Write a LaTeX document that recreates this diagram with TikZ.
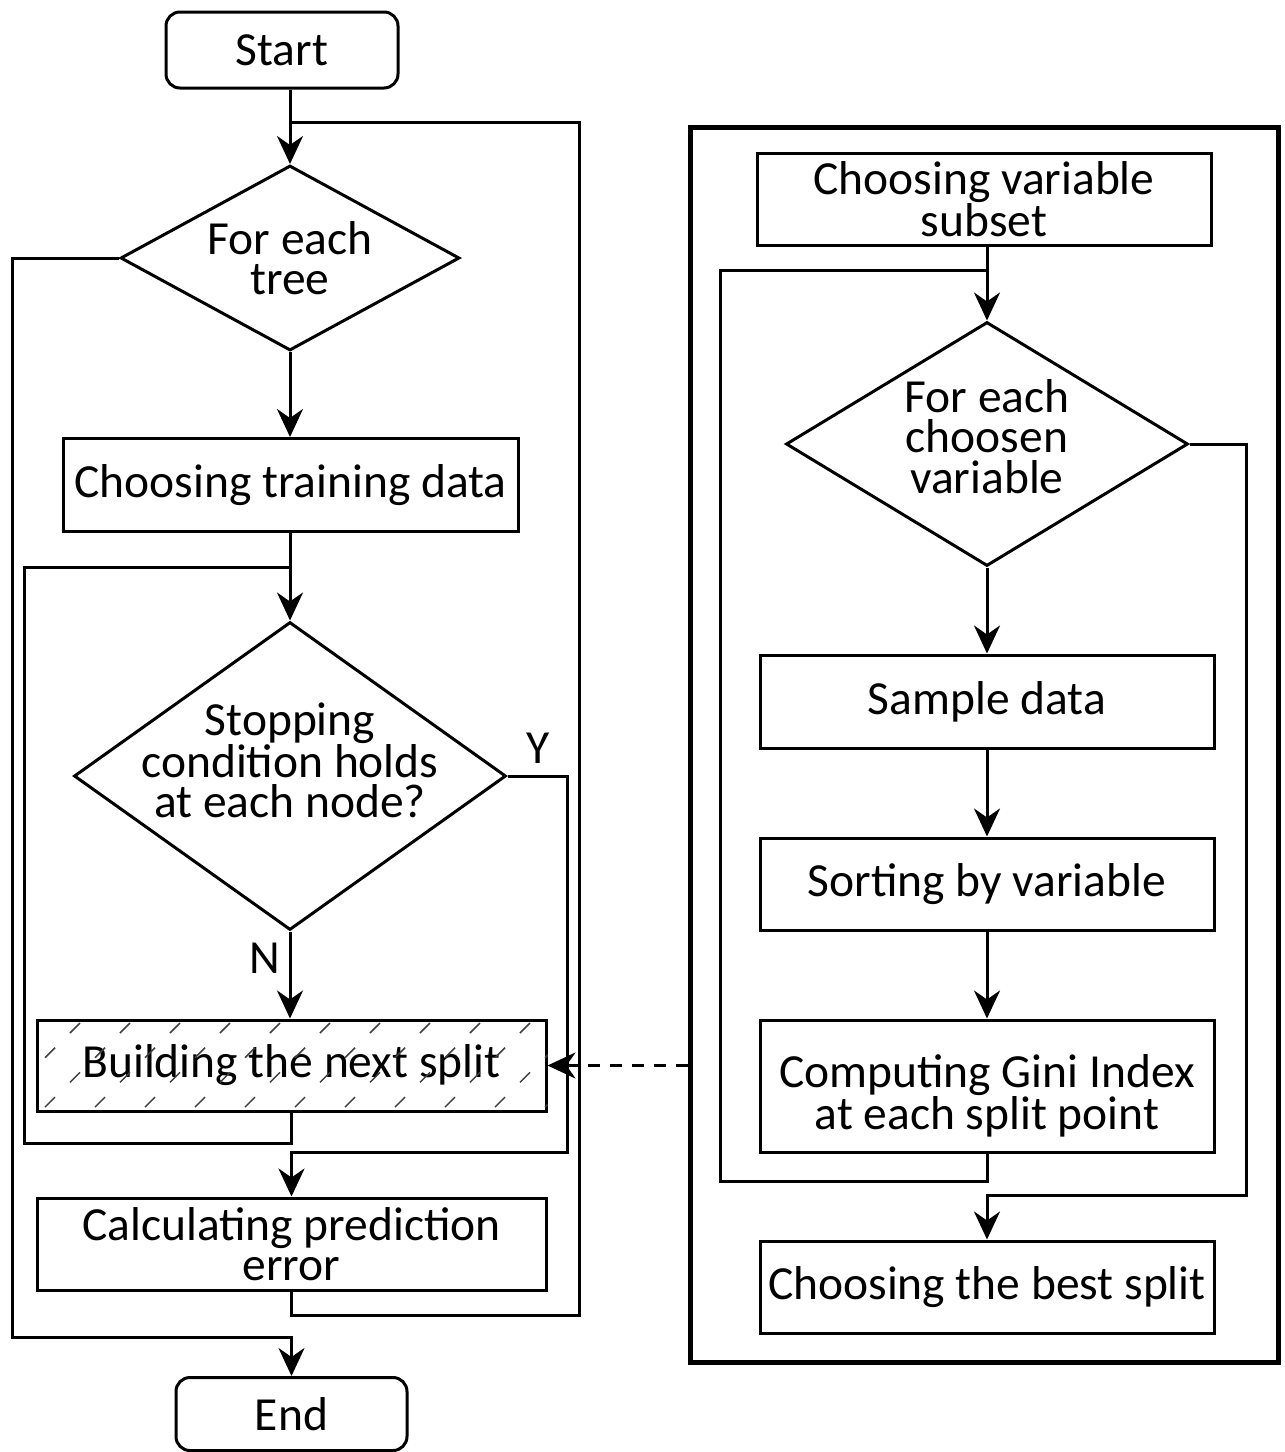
\documentclass[tikz,border=0pt]{standalone}
\usepackage{fontspec}
\setmainfont{Carlito}
\usetikzlibrary{shapes.geometric,arrows.meta,positioning}

\tikzset{
    block/.style={draw, line width=3pt, minimum width=455pt, minimum height=93pt, inner sep=4pt, align=center},
    decision/.style={draw, diamond, line width=3pt, inner sep=-20pt, align=center},
    terminal/.style={draw, rounded corners=14pt, line width=3pt, minimum width=232pt, minimum height=76pt},
    line/.style={line width=3pt},
    arrow/.style={line, -{Stealth[length=28pt, width=26pt, inset=9pt]}},
    hatch/.style={line width=1.5pt, black!75},
}

\begin{document}
\begin{tikzpicture}[x=1pt, y=-1pt, font=\fontsize{47.5}{40.5}\selectfont]
        \useasboundingbox (0,0) rectangle (1285,1452);

        % main loop over the trees
        \node[terminal] (start) at (282,50) {Start};
        \node[decision, shape aspect=1.83, minimum width=339pt, minimum height=185pt] (tree) at (290,258) {For each\\tree};
        \node[block] (train) at (290.5,485) {Choosing training data};
        \node[decision, shape aspect=1.4, minimum width=432pt, minimum height=308pt] (stop) at (290,776) {Stopping\\condition holds\\at each node?\rule[-32pt]{0pt}{0pt}};
        \node[block, minimum width=509pt, minimum height=91pt] (build) at (291.5,1065.5) {Building the next split};
        \node[block, minimum width=509pt, minimum height=92pt] (calc) at (291.5,1244) {Calculating prediction\\error};
        \node[terminal, minimum width=231pt, minimum height=73pt] (end) at (291.5,1414) {End};

        % hatching of the split box
        \begin{scope}
            \clip (build.south west) rectangle (build.north east);
            \foreach \r/\xo in {0/75, 1/50, 2/75, 3/50} {
                \foreach \c in {0,...,10} {
                    \draw[hatch] ({\xo + 50*\c - 5}, {1033 + 24.7*\r}) -- ++(10,-10);
                }
            }
        \end{scope}

        \node (ylab) at (538,748) {Y};
        \node (nlab) at (265,958) {N};

        \coordinate (outR) at (579,122);
        \coordinate (outL) at (12,1337);
        \coordinate (inL) at (24,567);
        \coordinate (yR) at (567,1152);

        \draw[arrow] (start.south -| tree.north) -- (tree.north);
        \draw[arrow] (tree.south) -- (train.north -| tree.south);
        \draw[arrow] (train.south -| stop.north) -- (stop.north);
        \draw[arrow] (stop.south) -- (build.north -| stop.south);
        \draw[arrow] (stop.east) -| (yR) -| (calc.north);
        \draw[arrow] (tree.west) -| (outL) -| (end.north);
        \draw[line] (build.south) -- ++(0,31) -| (inL) -- (inL -| stop.north);
        \draw[line] (calc.south) -- ++(0,24) -| (outR) -- (outR -| tree.north);

        % split procedure
        \node[draw, line width=5pt, minimum width=588pt, minimum height=1235pt] (panel) at (984,744.5) {};
        \node[block, minimum width=454pt, minimum height=92pt] (subset) at (984,199) {Choosing variable\\subset};
        \node[decision, shape aspect=1.65, minimum width=402pt, minimum height=244pt] (choose) at (987,444) {For each\\choosen\\variable\rule[-16pt]{0pt}{0pt}};
        \node[block, minimum width=454pt] (sample) at (987,701.5) {Sample data};
        \node[block, minimum width=454pt, minimum height=92pt] (sort) at (987,884) {Sorting by variable};
        \node[block, minimum width=454pt, minimum height=132pt] (gini) at (987,1086) {\rule{0pt}{52pt}Computing Gini Index\\at each split point};
        \node[block, minimum width=454pt, minimum height=92pt] (best) at (987,1287) {Choosing the best split};

        \coordinate (rinL) at (720,270);
        \coordinate (rR) at (1246,1195);

        \draw[arrow] (subset.south -| choose.north) -- (choose.north);
        \draw[arrow] (choose.south) -- (sample.north);
        \draw[arrow] (sample.south) -- (sort.north);
        \draw[arrow] (sort.south) -- (gini.north);
        \draw[line] (gini.south) -- ++(0,28) -| (rinL) -- (rinL -| choose.north);
        \draw[arrow] (choose.east) -| (rR) -| (best.north);

        \draw[arrow, dash pattern=on 12pt off 10pt] (panel.west |- build.east) -- (build.east);
    \end{tikzpicture}
\end{document}
